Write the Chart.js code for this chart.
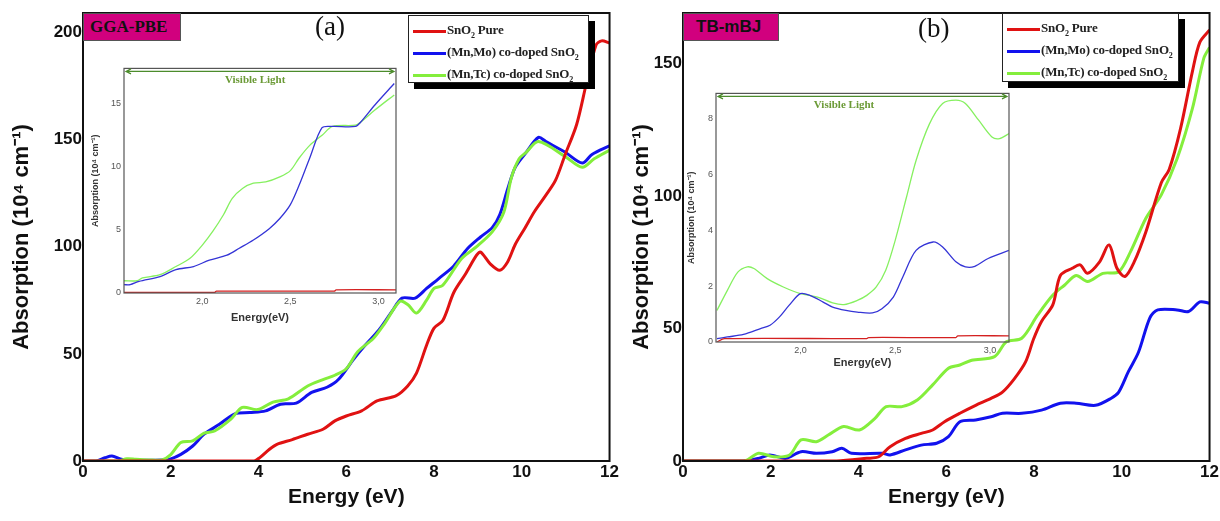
<!DOCTYPE html>
<html>
<head>
<meta charset="utf-8">
<script src="https://cdn.jsdelivr.net/npm/chart.js@4.4.0/dist/chart.umd.min.js"></script>
<style>
  body { margin: 0; background: #fff; }
  #wrap { position: relative; width: 1220px; height: 521px; overflow: hidden; }
  canvas { position: absolute; }
  .tag { position: absolute; height: 28px; background: #d1007e; border: 1px solid #555;
         box-sizing: border-box; font-weight: bold; color: #111; line-height: 26px; padding-left: 6px; }
  .panel { position: absolute; font-family: "Liberation Serif", serif; font-size: 27px; color: #111; }
  .legend { position: absolute; background: #fff; border: 1px solid #222; box-shadow: 6px 6px 0 #000;
            font-family: "Liberation Serif", serif; font-weight: bold; font-size: 13px; letter-spacing: -0.2px;
            color: #222; box-sizing: border-box; padding: 3px 4px; }
  .legend div { height: 22px; line-height: 22px; white-space: nowrap; }
  .legend span.ln { display: inline-block; width: 33px; height: 3px; vertical-align: middle; margin-right: 1px; }
  .legend sub { font-size: 8px; }
</style>
</head>
<body>
<div id="wrap">
  <canvas id="mainA" width="620" height="521" style="left:0;top:0"></canvas>
  <canvas id="mainB" width="610" height="521" style="left:610px;top:0"></canvas>
  <canvas id="insetA" width="322" height="270" style="left:80px;top:60px"></canvas>
  <canvas id="insetB" width="334" height="290" style="left:682px;top:85px"></canvas>
  <div class="tag" style="left:83px;top:13px;width:98px;font-family:'Liberation Serif',serif;font-size:17px;">GGA-PBE</div>
  <div class="tag" style="left:683px;top:13px;width:96px;font-family:'Liberation Sans',sans-serif;font-size:17px;padding-left:12px;">TB-mBJ</div>
  <div class="panel" style="left:315px;top:11px;">(a)</div>
  <div class="panel" style="left:918px;top:13px;">(b)</div>
  <div class="legend" id="legA" style="left:408px;top:15px;width:181px;height:68px;"></div>
  <div class="legend" id="legB" style="left:1002px;top:13px;width:177px;height:69px;"></div>
</div>
<script>
"use strict";

// Series names and colours
const seriesNames = ['SnO₂ Pure', '(Mn,Mo) co-doped SnO₂', '(Mn,Tc) co-doped SnO₂'];
const seriesColors = ['#e01212', '#1212ee', '#84ee3c'];
const insetColors = ['#d42020', '#3434d6', '#86f060'];

// Tick labels
const mainTicksX = [0, 2, 4, 6, 8, 10, 12];
const pbeTicksY = [0, 50, 100, 150, 200];
const mbjTicksY = [0, 50, 100, 150];
const insetTicksX = [2.0, 2.5, 3.0];
const pbeInsetTicksY = [0, 5, 10, 15];
const mbjInsetTicksY = [0, 2, 4, 6, 8];

// (a) GGA-PBE, [energy eV, absorption]
const pbePure = [[0,0],[0.8,0],[2,0],[3,0],[3.9,0],[4.03,1.6],[4.25,5.5],[4.42,7.8],[4.77,10],[5.12,12.5],[5.47,14.8],[5.74,18.7],[6.0,21],[6.35,23.4],[6.7,28],[7.14,30.5],[7.4,35],[7.6,41],[7.83,54],[8.0,62],[8.2,65.5],[8.45,78.6],[8.71,87],[8.97,96],[9.06,97.5],[9.28,92],[9.5,89],[9.68,93],[9.85,101],[10.07,108.6],[10.29,116.4],[10.55,124],[10.77,131],[10.99,143],[11.25,157],[11.47,176],[11.69,194],[11.82,196],[12,195]];
const pbeMnMo = [[0,0],[0.3,0],[0.5,1.5],[0.66,2.3],[0.85,1],[1.0,0.5],[1.5,0.3],[1.8,0.5],[2.0,1],[2.23,3.1],[2.5,7],[2.76,12.5],[3.1,17],[3.46,22],[3.8,22.6],[4.16,23.4],[4.5,26.5],[4.86,27],[5.21,32],[5.56,34.4],[5.82,38],[6.17,47.6],[6.43,54],[6.74,61],[7.05,70],[7.27,76],[7.57,76],[7.83,80.5],[8.1,85],[8.45,91],[8.76,99],[9.06,104.5],[9.33,109],[9.5,115],[9.68,127],[9.85,137],[10.1,144],[10.38,151],[10.55,149],[10.99,144],[11.38,139],[11.6,143],[12,147]];
const pbeMnTc = [[0,0],[0.8,0],[1.0,1],[1.2,0.8],[1.5,0.5],[1.8,0.5],[2.0,3],[2.23,8.6],[2.5,9.4],[2.76,13],[3.0,14],[3.37,19.5],[3.63,25],[3.98,24],[4.33,27.5],[4.68,29],[5.12,35],[5.47,38],[5.74,40],[6.0,43],[6.26,51],[6.61,57],[6.87,64],[7.22,74.5],[7.4,73],[7.6,69],[7.83,75],[8.0,80.5],[8.2,82],[8.63,94.5],[8.97,100],[9.33,107],[9.59,116],[9.76,132],[9.94,141],[10.1,144],[10.38,149],[10.99,142],[11.38,137],[11.65,141],[12,145]];

// (b) TB-mBJ
const mbjPure = [[0,0],[3.5,0],[4.19,1],[4.46,1.6],[4.72,5.4],[5.07,8.5],[5.43,10.4],[5.69,11.7],[5.96,14.8],[6.31,18],[6.67,21],[7.02,23.6],[7.28,26],[7.55,31],[7.81,37.5],[7.99,46],[8.17,52.6],[8.43,59],[8.6,70],[8.87,72.7],[9.05,74],[9.22,70.8],[9.49,75],[9.71,81.5],[9.89,72.7],[10.07,69.6],[10.28,75],[10.55,86.5],[10.9,105],[11.08,110],[11.34,125.5],[11.61,147],[11.78,158],[12,162.6]];
const mbjMnMo = [[0,0],[1.37,0],[1.72,1],[1.98,2.3],[2.34,1],[2.69,3.5],[3.04,2.9],[3.4,3.5],[3.62,4.8],[3.84,2.9],[4.55,2.9],[4.72,2.3],[5.07,4.2],[5.43,6],[5.78,6.7],[6.05,9.2],[6.31,14.8],[6.67,15.5],[7.02,16.7],[7.28,18],[7.72,18],[8.17,19.2],[8.6,21.8],[8.96,21.8],[9.4,21],[9.75,23.6],[9.93,26],[10.15,33.7],[10.38,41],[10.64,54],[10.82,57],[11.26,57],[11.52,56.4],[11.78,60],[12,59.5]];
const mbjMnTc = [[0,0],[1.4,0],[1.72,2.9],[2.07,1.6],[2.43,2.3],[2.69,8],[3.04,7.3],[3.31,9.8],[3.66,13],[4.02,11.7],[4.37,16],[4.63,20.5],[4.99,20.5],[5.34,23],[5.69,28.7],[6.05,35],[6.31,36.2],[6.58,38],[7.1,39.4],[7.37,45],[7.72,46.3],[8.08,55],[8.43,62.6],[8.7,66.4],[8.96,70],[9.22,67.7],[9.57,70.8],[9.93,71.4],[10.2,79],[10.55,91.6],[10.9,100.4],[11.26,114],[11.61,133],[11.87,152],[12,156]];

// Insets (visible range)
const pbeInsetPure = [[1.555,0.05],[2.07,0.05],[2.08,0.15],[2.75,0.15],[2.76,0.25],[3.1,0.25]];
const pbeInsetMnMo = [[1.555,0.66],[1.59,0.66],[1.64,0.92],[1.76,1.3],[1.85,1.85],[1.95,2.1],[2.04,2.6],[2.14,3.0],[2.21,3.55],[2.29,4.2],[2.38,5.1],[2.44,5.9],[2.5,7.0],[2.55,8.55],[2.61,10.7],[2.68,13.1],[2.74,13.2],[2.87,13.2],[2.9,13.55],[2.98,14.9],[3.09,16.6]];
const pbeInsetMnTc = [[1.555,0.97],[1.63,0.97],[1.66,1.2],[1.76,1.45],[1.85,2.1],[1.93,2.75],[2.0,3.8],[2.06,4.9],[2.12,6.2],[2.17,7.5],[2.23,8.3],[2.29,8.7],[2.36,8.8],[2.44,9.2],[2.5,9.7],[2.55,10.7],[2.61,11.7],[2.68,12.5],[2.74,13.2],[2.87,13.3],[2.9,13.55],[2.98,14.5],[3.09,15.7]];
const mbjInsetPure = [[1.56,0],[1.6,0.12],[2.35,0.12],[2.36,0.16],[2.82,0.16],[2.83,0.22],[3.1,0.22]];
const mbjInsetMnMo = [[1.56,0.12],[1.615,0.18],[1.7,0.27],[1.79,0.48],[1.84,0.6],[1.89,0.9],[1.94,1.31],[2.0,1.73],[2.05,1.67],[2.12,1.43],[2.17,1.25],[2.24,1.13],[2.3,1.07],[2.38,1.04],[2.43,1.19],[2.49,1.61],[2.54,2.33],[2.61,3.28],[2.7,3.58],[2.75,3.4],[2.82,2.87],[2.87,2.69],[2.92,2.71],[2.99,2.99],[3.1,3.28]];
const mbjInsetMnTc = [[1.56,1.13],[1.615,1.85],[1.67,2.5],[1.72,2.69],[1.755,2.63],[1.825,2.27],[1.91,1.97],[2.0,1.73],[2.09,1.61],[2.17,1.4],[2.23,1.34],[2.3,1.49],[2.35,1.67],[2.4,1.97],[2.45,2.57],[2.5,3.64],[2.56,5.2],[2.61,6.5],[2.68,7.8],[2.75,8.54],[2.82,8.66],[2.87,8.54],[2.94,7.94],[3.01,7.34],[3.05,7.28],[3.1,7.46]];

const yTitle = 'Absorption (10⁴ cm⁻¹)';
const xTitle = 'Energy (eV)';
const insetXTitle = 'Energy(eV)';
const visLabel = 'Visible Light';

const sansB = "'Liberation Sans Narrow', 'Liberation Sans', Arial, sans-serif";

// Frame round the plot area
const frame = {
  id: 'frame',
  afterDraw(chart, args, opts) {
    const a = chart.chartArea, ctx = chart.ctx;
    ctx.save();
    ctx.strokeStyle = opts.color;
    ctx.lineWidth = opts.width;
    ctx.strokeRect(a.left, a.top, a.right - a.left, a.bottom - a.top);
    ctx.restore();
  }
};

// Double arrow + "Visible Light" on the insets
const visibleLight = {
  id: 'visibleLight',
  afterDraw(chart, args, opts) {
    const a = chart.chartArea, ctx = chart.ctx;
    const y = a.top + 3;
    ctx.save();
    ctx.strokeStyle = '#4c8c2c';
    ctx.lineWidth = 1.2;
    ctx.beginPath();
    ctx.moveTo(a.left + 2, y); ctx.lineTo(a.right - 2, y);
    ctx.moveTo(a.left + 7, y - 2.5); ctx.lineTo(a.left + 2, y); ctx.lineTo(a.left + 7, y + 2.5);
    ctx.moveTo(a.right - 7, y - 2.5); ctx.lineTo(a.right - 2, y); ctx.lineTo(a.right - 7, y + 2.5);
    ctx.stroke();
    ctx.fillStyle = '#6b9a36';
    ctx.font = "bold 11px 'Liberation Serif', serif";
    ctx.textAlign = 'center';
    ctx.textBaseline = 'middle';
    ctx.fillText(visLabel, chart.scales.x.getPixelForValue(opts.at), y + 9);
    ctx.restore();
  }
};

function toXY(arr) {
  return arr.map(function (p) { return {x: p[0], y: p[1]}; });
}

function fixedTicks(list) {
  return function (scale) { scale.ticks = list.map(function (v) { return {value: v}; }); };
}

function makeMain(id, series, yMax, yTicks, yWidth, yTitlePad, rightPad) {
  return new Chart(document.getElementById(id), {
    type: 'line',
    data: {
      datasets: series.map(function (s, i) {
        return {
          label: seriesNames[i],
          data: toXY(s),
          borderColor: seriesColors[i],
          borderWidth: 3,
          pointRadius: 0,
          tension: 0.3,
          fill: false,
          order: [0, 2, 1][i]
        };
      })
    },
    options: {
      responsive: false,
      animation: false,
      layout: {padding: {top: 13, right: rightPad, left: 0, bottom: 0}},
      plugins: {legend: {display: false}, tooltip: {enabled: false}, frame: {color: '#111', width: 2}},
      scales: {
        x: {
          type: 'linear', min: 0, max: 12,
          afterBuildTicks: fixedTicks(mainTicksX),
          afterFit: function (s) { s.height = 60; },
          grid: {display: false, drawTicks: false},
          border: {display: false},
          ticks: {color: '#111', padding: 1, font: {family: sansB, size: 17, weight: 'bold'}},
          title: {display: true, text: xTitle, color: '#111', padding: {top: 0, bottom: 11},
                  font: {family: sansB, size: 21, weight: 'bold'}}
        },
        y: {
          type: 'linear', min: 0, max: yMax,
          afterBuildTicks: fixedTicks(yTicks),
          afterFit: function (s) { s.width = yWidth; },
          grid: {display: false, drawTicks: false},
          border: {display: false},
          ticks: {color: '#111', padding: 1, font: {family: sansB, size: 17, weight: 'bold'}},
          title: {display: true, text: yTitle, color: '#111', padding: {top: yTitlePad, bottom: 0},
                  font: {family: sansB, size: 22, weight: 'bold'}}
        }
      }
    },
    plugins: [frame]
  });
}

function makeInset(id, series, yMax, yTicks, yWidth, yTitlePad, xHeight, rightPad, labelAt) {
  return new Chart(document.getElementById(id), {
    type: 'line',
    data: {
      datasets: series.map(function (s, i) {
        return {
          label: seriesNames[i],
          data: toXY(s),
          borderColor: insetColors[i],
          borderWidth: 1.3,
          pointRadius: 0,
          tension: 0.3,
          fill: false
        };
      })
    },
    options: {
      responsive: false,
      animation: false,
      layout: {padding: {top: 8, right: rightPad, left: 0, bottom: 0}},
      plugins: {legend: {display: false}, tooltip: {enabled: false},
                frame: {color: '#555', width: 1.2}, visibleLight: {at: labelAt}},
      scales: {
        x: {
          type: 'linear', min: 1.555, max: 3.1,
          afterBuildTicks: fixedTicks(insetTicksX),
          afterFit: function (s) { s.height = xHeight; },
          grid: {display: false, drawTicks: false},
          border: {display: false},
          ticks: {color: '#555', padding: 3, font: {family: "'Liberation Sans', sans-serif", size: 9},
                  callback: function (v) { return v.toFixed(1).replace('.', ','); }},
          title: {display: true, text: insetXTitle, color: '#333', padding: {top: 0, bottom: 5},
                  font: {family: "'Liberation Sans', sans-serif", size: 11, weight: 'bold'}}
        },
        y: {
          type: 'linear', min: 0, max: yMax,
          afterBuildTicks: fixedTicks(yTicks),
          afterFit: function (s) { s.width = yWidth; },
          grid: {display: false, drawTicks: false},
          border: {display: false},
          ticks: {color: '#555', padding: 3, font: {family: "'Liberation Sans', sans-serif", size: 9}},
          title: {display: true, text: yTitle, color: '#333', padding: {top: yTitlePad, bottom: 0},
                  font: {family: "'Liberation Sans', sans-serif", size: 9, weight: 'bold'}}
        }
      }
    },
    plugins: [frame, visibleLight]
  });
}

// Panel (a) GGA-PBE
makeMain('mainA', [pbePure, pbeMnMo, pbeMnTc], 209, pbeTicksY, 83, 9, 8);
// Panel (b) TB-mBJ
makeMain('mainB', [mbjPure, mbjMnMo, mbjMnTc], 169, mbjTicksY, 73, 19, 8);

// Insets
makeInset('insetA', [pbeInsetPure, pbeInsetMnMo, pbeInsetMnTc], 17.8, pbeInsetTicksY, 44, 10, 37, 6, 2.3);
makeInset('insetB', [mbjInsetPure, mbjInsetMnMo, mbjInsetMnTc], 8.9, mbjInsetTicksY, 34, 4, 33, 7, 2.23);

// Legends
function buildLegend(elId) {
  const el = document.getElementById(elId);
  el.innerHTML = seriesNames.map(function (n, i) {
    return '<div><span class="ln" style="background:' + seriesColors[i] + '"></span>' +
      n.replace(/₂/g, '<sub>2</sub>') + '</div>';
  }).join('');
}
buildLegend('legA');
buildLegend('legB');
</script>
</body>
</html>
